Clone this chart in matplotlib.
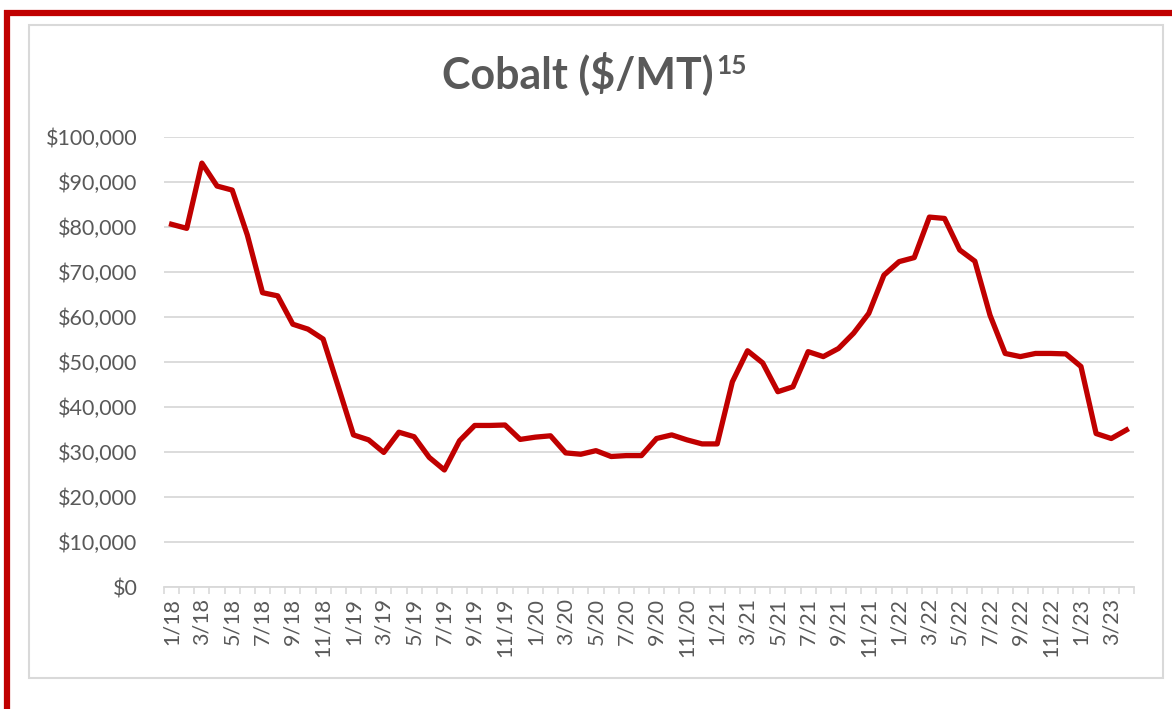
import numpy as np
import matplotlib
matplotlib.use("Agg")
import matplotlib.pyplot as plt
from matplotlib.patches import Rectangle
from matplotlib.lines import Line2D
from matplotlib.ticker import FuncFormatter, FixedLocator

# -------------------------------
# Data (monthly cobalt price, $/MT, 1/18 - 4/23)
# -------------------------------
months = [f"{m}/{y}" for y in range(18, 24) for m in range(1, 13)][:64]
price_k = [80.6, 79.7, 94.2, 89.1, 88.2, 78.2, 65.4, 64.7, 58.4, 57.3, 55.1, 44.5,
           33.8, 32.7, 29.9, 34.4, 33.4, 28.8, 26.0, 32.5, 35.9, 35.9, 36.0, 32.8,
           33.3, 33.6, 29.8, 29.5, 30.3, 29.0, 29.2, 29.2, 33.0, 33.8, 32.7, 31.8,
           31.8, 45.6, 52.5, 49.8, 43.4, 44.5, 52.3, 51.2, 53.0, 56.4, 60.8, 69.3,
           72.3, 73.2, 82.2, 81.9, 74.9, 72.4, 60.4, 51.9, 51.2, 51.9, 51.9, 51.8,
           49.0, 34.1, 33.0, 34.9]
prices = [p * 1000 for p in price_k]
yticks = list(range(0, 100001, 10000))

W, H = 1172, 709
fig = plt.figure(figsize=(W / 100, H / 100), dpi=100)
plt.rcParams['font.family'] = ['Lato', 'DejaVu Sans']

# chart frame + red page border
fig.add_artist(Rectangle((29 / W, 1 - 678 / H), (1163 - 29) / W, (678 - 25) / H,
                         transform=fig.transFigure, fill=False, edgecolor="#D9D9D9", lw=1.5))
fig.add_artist(Line2D([4 / W, 1], [1 - 13 / H] * 2, transform=fig.transFigure,
                      color="#C00000", lw=4.5, solid_capstyle="butt"))
fig.add_artist(Line2D([7 / W] * 2, [0, 1 - 10 / H], transform=fig.transFigure,
                      color="#C00000", lw=4.5, solid_capstyle="butt"))

ax = fig.add_axes([164 / W, 1 - 587 / H, (1134 - 164) / W, (587 - 137) / H])
x = np.arange(len(prices))
ax.plot(x, prices, color="#C00000", lw=3.8, solid_joinstyle="round", zorder=3)

ax.set_xlim(-0.5, len(prices) - 0.5)
ax.set_ylim(0, 100000)
ax.set_yticks(yticks)
ax.yaxis.set_major_formatter(FuncFormatter(lambda v, p: f"${v:,.0f}"))
ax.grid(axis="y", color="#D9D9D9", lw=1.3)
ax.set_axisbelow(True)

ax.set_xticks(x[::2])
ax.set_xticklabels(months[::2], rotation=90)
ax.xaxis.set_minor_locator(FixedLocator(np.arange(-0.5, len(prices), 1.0)))
ax.tick_params(axis="x", which="major", length=0, pad=8, labelsize=15.5, labelcolor="#595959")
ax.tick_params(axis="x", which="minor", length=5, color="#D9D9D9", width=1.2)
ax.tick_params(axis="y", length=0, pad=19, labelsize=15.5, labelcolor="#595959")

for s in ["top", "right", "left"]:
    ax.spines[s].set_visible(False)
ax.spines["bottom"].set_color("#D9D9D9")
ax.spines["bottom"].set_linewidth(1.3)

# title with superscript footnote
fig.text(714 / W, 1 - 88 / H, "Cobalt ($/MT)", ha="right", va="baseline",
         fontsize=31, fontweight="bold", color="#595959")
fig.text(716 / W, 1 - 74 / H, "15", ha="left", va="baseline",
         fontsize=19, fontweight="bold", color="#595959")

fig.savefig("out.png", dpi=100)
